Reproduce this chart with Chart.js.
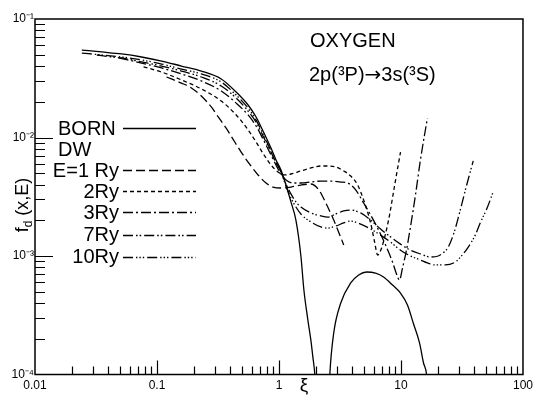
<!DOCTYPE html>
<html>
<head>
<meta charset="utf-8">
<script src="https://cdn.jsdelivr.net/npm/chart.js@4.4.1/dist/chart.umd.min.js"></script>
<style>
  html, body { margin: 0; padding: 0; background: #fff; }
  canvas { display: block; }
</style>
</head>
<body>
<canvas id="chart" width="537" height="400"></canvas>
<script>
// Oxygen 2p(3P) -> 3s(3S): generalized oscillator strength f_d(xi, E)
// Born approximation and distorted-wave results at several impact energies.

const xTickLabels = ['0.01', '0.1', '1', '10', '100'];
const yTickLabels = ['10⁻⁴', '10⁻³', '10⁻²', '10⁻¹'];

// Born, first lobe (falls through zero near xi ~ 2)
const bornXi = [0.0242, 0.0352, 0.0513, 0.0747, 0.109, 0.1585, 0.2308, 0.3362, 0.4457, 0.558, 0.649, 0.754, 0.860, 0.945, 1.038, 1.141, 1.253, 1.376, 1.512, 1.600, 1.725, 1.825, 1.894, 1.967, 2.02];
const bornF  = [0.0547, 0.0527, 0.0507, 0.0478, 0.0442, 0.0401, 0.0364, 0.0312, 0.0242, 0.0188, 0.0149, 0.0109, 0.00815, 0.00646, 0.00532, 0.00397, 0.00286, 0.00201, 0.00100, 0.000517, 0.000288, 0.000195, 0.000141, 0.0001, 0.00006];

// Born, second lobe
const born2Xi = [2.56, 2.61, 2.81, 3.208, 3.871, 4.50, 5.23, 6.19, 7.19, 8.52, 9.91, 11.3, 12.6, 14.2, 15.3, 16.2, 16.8];
const born2F  = [0.00006, 0.0001, 0.000224, 0.000401, 0.000592, 0.000691, 0.000733, 0.000716, 0.000665, 0.000569, 0.000487, 0.000386, 0.000272, 0.000184, 0.000125, 0.0001, 0.00006];

// Distorted wave, E = 1 Ry
const dw1Xi = [0.1196, 0.1585, 0.1913, 0.2308, 0.2786, 0.318, 0.369, 0.429, 0.4896, 0.558, 0.674, 0.7833, 0.893, 1.038, 1.253, 1.512, 1.825, 2.121, 2.420, 2.81, 3.394];
const dw1F  = [0.0324, 0.0288, 0.0262, 0.0224, 0.0181, 0.0149, 0.0120, 0.00934, 0.00754, 0.00621, 0.00483, 0.00413, 0.00382, 0.00375, 0.00382, 0.00397, 0.00405, 0.00361, 0.00280, 0.00201, 0.00124];

// Distorted wave, E = 2 Ry
const dw2Xi = [0.0776, 0.109, 0.1585, 0.2308, 0.3362, 0.4457, 0.558, 0.649, 0.754, 0.860, 0.981, 1.098, 1.253, 1.512, 1.825, 2.203, 2.512, 2.920, 3.394, 3.871, 4.415, 4.94, 5.637, 6.08, 6.43, 6.93, 7.91, 8.85, 9.91];
const dw2F  = [0.0394, 0.0357, 0.0306, 0.0257, 0.0203, 0.0155, 0.0116, 0.00916, 0.00712, 0.00586, 0.00512, 0.00483, 0.00492, 0.00522, 0.00553, 0.00575, 0.00575, 0.00564, 0.00522, 0.00473, 0.00397, 0.00297, 0.00190, 0.00131, 0.00102, 0.00117, 0.00201, 0.00390, 0.00754];

// Distorted wave, E = 3 Ry
const dw3Xi = [0.0485, 0.0747, 0.109, 0.1585, 0.2308, 0.3362, 0.4457, 0.558, 0.649, 0.754, 0.860, 0.945, 1.038, 1.141, 1.301, 1.512, 1.825, 2.203, 2.658, 3.208, 3.66, 4.253, 4.94, 5.637, 6.43, 7.47, 8.52, 9.19, 9.72, 10.29, 11.09, 11.96, 13.14, 14.43, 16.46];
const dw3F  = [0.0469, 0.0425, 0.0386, 0.0344, 0.0300, 0.0247, 0.0195, 0.0155, 0.0125, 0.00934, 0.00712, 0.00586, 0.00492, 0.00438, 0.00413, 0.00413, 0.00421, 0.00429, 0.00429, 0.00421, 0.00413, 0.00361, 0.00280, 0.00222, 0.00172, 0.00124, 0.000890, 0.000705, 0.000627, 0.000792, 0.00112, 0.00176, 0.00327, 0.00646, 0.0146];

// Distorted wave, E = 7 Ry
const dw7Xi = [0.0321, 0.0425, 0.0513, 0.0747, 0.109, 0.1585, 0.2308, 0.3362, 0.4457, 0.558, 0.649, 0.754, 0.860, 0.945, 1.038, 1.141, 1.253, 1.376, 1.512, 1.825, 2.203, 2.512, 2.920, 3.394, 3.871, 4.671, 5.637, 6.80, 8.21, 9.91, 11.96, 14.43, 17.41, 20.2, 22.6, 24.4, 27.3, 30.6, 34.2, 39.1];
const dw7F  = [0.0497, 0.0478, 0.0469, 0.0434, 0.0401, 0.0364, 0.0324, 0.0272, 0.0215, 0.0167, 0.0135, 0.00990, 0.00754, 0.00609, 0.00512, 0.00405, 0.00334, 0.00286, 0.00259, 0.00231, 0.00218, 0.00213, 0.00226, 0.00240, 0.00244, 0.00231, 0.00201, 0.00169, 0.00145, 0.00126, 0.00112, 0.00104, 0.000981, 0.00100, 0.00108, 0.00119, 0.00159, 0.00244, 0.00382, 0.00634];

// Distorted wave, E = 10 Ry
const dw10Xi = [0.0242, 0.0352, 0.0513, 0.0747, 0.109, 0.1585, 0.2308, 0.3362, 0.4457, 0.558, 0.649, 0.754, 0.860, 0.945, 1.038, 1.141, 1.253, 1.376, 1.512, 1.825, 2.203, 2.512, 2.920, 3.394, 3.871, 4.671, 5.637, 6.80, 8.21, 9.91, 11.96, 14.43, 16.46, 19.12, 23.08, 27.86, 31.8, 35.6, 40.6, 44.6, 50.8, 56.9];
const dw10F  = [0.0516, 0.0497, 0.0478, 0.0451, 0.0417, 0.0378, 0.0344, 0.0294, 0.0228, 0.0177, 0.0140, 0.0103, 0.00769, 0.00621, 0.00512, 0.00390, 0.00309, 0.00259, 0.00226, 0.00194, 0.00176, 0.00172, 0.00179, 0.00190, 0.00197, 0.00186, 0.00169, 0.00150, 0.00131, 0.00112, 0.00100, 0.000925, 0.000873, 0.000840, 0.000840, 0.000890, 0.00102, 0.00119, 0.00150, 0.00190, 0.00254, 0.00347];

const FONT = '"Liberation Sans", Arial, sans-serif';

const pairs = (xs, ys) => xs.map((v, i) => ({ x: v, y: ys[i] }));

function series(label, xs, ys, dash) {
  return {
    label,
    data: pairs(xs, ys),
    borderColor: '#000',
    borderWidth: 1.3,
    borderDash: dash,
    pointRadius: 0,
    fill: false,
    cubicInterpolationMode: 'monotone'
  };
}

const datasets = [
  series('BORN', bornXi, bornF, []),
  series('BORN (second lobe)', born2Xi, born2F, []),
  series('E=1 Ry', dw1Xi, dw1F, [9, 4]),
  series('2Ry', dw2Xi, dw2F, [4, 3]),
  series('3Ry', dw3Xi, dw3F, [10, 3, 2, 3]),
  series('7Ry', dw7Xi, dw7F, [10, 3, 1.6, 2, 1.6, 3]),
  series('10Ry', dw10Xi, dw10F, [10, 3, 1.4, 2, 1.4, 2, 1.4, 3])
];

const isDecade = v => Math.abs(Math.log10(v) - Math.round(Math.log10(v))) < 1e-9;

function logTicks(lo, hi) {
  const out = [];
  for (let e = lo; e < hi; e++) {
    for (let m = 1; m <= 9; m++) out.push({ value: m * Math.pow(10, e) });
  }
  out.push({ value: Math.pow(10, hi) });
  return out;
}

// legend rows: label, dataset index for the line sample (null = heading only)
const legendRows = [
  { text: 'BORN',   ds: 0,    align: 'left',  base: 135, line: 128 },
  { text: 'DW',     ds: null, align: 'left',  base: 156, line: null },
  { text: 'E=1 Ry', ds: 2,    align: 'right', base: 177, line: 170 },
  { text: '2Ry',    ds: 3,    align: 'right', base: 198, line: 191 },
  { text: '3Ry',    ds: 4,    align: 'right', base: 219, line: 212 },
  { text: '7Ry',    ds: 5,    align: 'right', base: 241, line: 235 },
  { text: '10Ry',   ds: 6,    align: 'right', base: 263, line: 257 }
];

// draws a run of text pieces left to right, each with its own font
function drawRun(ctx, pieces, x, y) {
  pieces.forEach(([txt, font]) => {
    ctx.font = font;
    ctx.fillText(txt, x, y);
    x += ctx.measureText(txt).width;
  });
}

const decorations = {
  id: 'decorations',
  afterDraw(chart) {
    const { ctx, chartArea: a, scales: { x, y } } = chart;
    ctx.save();
    ctx.strokeStyle = '#000';
    ctx.fillStyle = '#000';

    // frame
    ctx.lineWidth = 1.5;
    ctx.strokeRect(a.left, a.top, a.right - a.left, a.bottom - a.top);

    // inward tick marks on the bottom and left axes
    ctx.lineWidth = 1.2;
    ctx.beginPath();
    x.ticks.forEach(t => {
      const px = Math.round(x.getPixelForValue(t.value)) + 0.5;
      if (px <= a.left + 2 || px >= a.right - 2) return;
      const len = isDecade(t.value) ? 14 : 8;
      ctx.moveTo(px, a.bottom);
      ctx.lineTo(px, a.bottom - len);
    });
    y.ticks.forEach(t => {
      const py = Math.round(y.getPixelForValue(t.value)) + 0.5;
      if (py <= a.top + 2 || py >= a.bottom - 2) return;
      const len = isDecade(t.value) ? 18 : 10;
      ctx.moveTo(a.left, py);
      ctx.lineTo(a.left + len, py);
    });
    ctx.stroke();

    // panel title
    const f20 = '20px ' + FONT;
    ctx.textAlign = 'left';
    ctx.textBaseline = 'alphabetic';
    ctx.font = f20;
    ctx.fillText('OXYGEN', 310, 47);
    drawRun(ctx, [['2p(³P)', f20], ['→', '20px "DejaVu Sans", sans-serif'], ['3s(³S)', f20]], 309, 81);

    // legend
    legendRows.forEach(r => {
      ctx.font = f20;
      ctx.textAlign = r.align;
      ctx.fillText(r.text, r.align === 'left' ? 58 : 119, r.base);
      if (r.ds !== null) {
        const d = chart.data.datasets[r.ds];
        ctx.save();
        ctx.lineWidth = d.borderWidth;
        ctx.setLineDash(d.borderDash);
        ctx.beginPath();
        ctx.moveTo(123, r.line + 0.5);
        ctx.lineTo(196, r.line + 0.5);
        ctx.stroke();
        ctx.restore();
      }
    });
    ctx.textAlign = 'left';

    // x axis title
    ctx.font = '19px ' + FONT;
    ctx.textAlign = 'center';
    ctx.fillText('ξ', 304, 391);

    // y axis title: f_d (x,E), rotated
    ctx.save();
    ctx.translate(28, 205);
    ctx.rotate(-Math.PI / 2);
    const big = '18px ' + FONT, small = '12px ' + FONT;
    ctx.font = big; const wf = ctx.measureText('f').width;
    ctx.font = small; const wd = ctx.measureText('d').width;
    ctx.font = big; const wr = ctx.measureText(' (x,E)').width;
    let cx = -(wf + wd + wr) / 2;
    ctx.textAlign = 'left';
    ctx.font = big; ctx.fillText('f', cx, 0); cx += wf;
    ctx.font = small; ctx.fillText('d', cx, 4); cx += wd;
    ctx.font = big; ctx.fillText(' (x,E)', cx, 0);
    ctx.restore();

    ctx.restore();
  }
};

new Chart(document.getElementById('chart'), {
  type: 'line',
  data: { datasets },
  options: {
    responsive: false,
    animation: false,
    layout: { padding: { top: 19, right: 14, left: 0, bottom: 0 } },
    plugins: { legend: { display: false }, tooltip: { enabled: false } },
    scales: {
      x: {
        type: 'logarithmic',
        min: 0.01,
        max: 100,
        afterBuildTicks: s => { s.ticks = logTicks(-2, 2); },
        afterFit: s => { s.height = 25.5; },
        grid: { display: false, drawTicks: false },
        border: { display: false },
        ticks: {
          autoSkip: false,
          maxRotation: 0,
          padding: 4,
          color: '#000',
          font: { family: FONT, size: 12 },
          callback: v => isDecade(v) ? xTickLabels[Math.round(Math.log10(v)) + 2] : ''
        }
      },
      y: {
        type: 'logarithmic',
        min: 0.0001,
        max: 0.1,
        afterBuildTicks: s => { s.ticks = logTicks(-4, -1); },
        afterFit: s => { s.width = 35; },
        grid: { display: false, drawTicks: false },
        border: { display: false },
        ticks: {
          autoSkip: false,
          padding: 1,
          color: '#000',
          font: { family: FONT, size: 12 },
          callback: v => isDecade(v) ? yTickLabels[Math.round(Math.log10(v)) + 4] : ''
        }
      }
    }
  },
  plugins: [decorations]
});
</script>
</body>
</html>
